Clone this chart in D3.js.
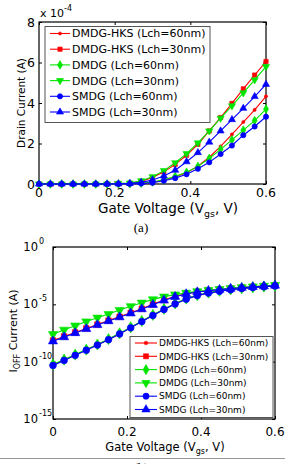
<!DOCTYPE html>
<html><head><meta charset="utf-8">
<script src="https://cdn.jsdelivr.net/npm/d3@7/dist/d3.min.js"></script>
<style>
body{margin:0;background:#fff}
svg{display:block}
text{font-family:"DejaVu Sans",sans-serif;fill:#000}
</style></head>
<body><svg id="c" width="285" height="464"></svg>
<script>
// ---------- data ----------
const vgs = [0,0.03,0.06,0.09,0.12,0.15,0.18,0.21,0.24,0.27,0.30,0.33,0.36,0.39,0.42,0.45,0.48,0.51,0.54,0.57,0.60];
const seriesNames = ["DMDG-HKS (Lch=60nm)","DMDG-HKS (Lch=30nm)","DMDG (Lch=60nm)","DMDG (Lch=30nm)","SMDG (Lch=60nm)","SMDG (Lch=30nm)"];
// (a) drain current, units of 1e-4 A
const idHks60  = [0,0,0,0,0,0,0,0,0.01,0.03,0.09,0.20,0.36,0.56,0.88,1.32,1.86,2.45,3.06,3.66,4.33];
const idHks30  = [0,0,0,0,0,0,0,0.02,0.04,0.13,0.32,0.60,0.97,1.42,1.96,2.62,3.28,3.98,4.70,5.38,6.05];
const idDmdg60 = [0,0,0,0,0,0,0,0,0.01,0.04,0.10,0.21,0.38,0.58,0.87,1.26,1.71,2.18,2.66,3.13,3.70];
const idDmdg30 = [0,0,0,0,0,0,0,0.03,0.05,0.16,0.36,0.66,1.05,1.50,2.03,2.62,3.25,3.86,4.50,5.14,5.80];
const idSmdg60 = [0,0,0,0,0,0,0,0,0.005,0.02,0.06,0.16,0.29,0.48,0.75,1.07,1.48,1.90,2.41,2.84,3.32];
const idSmdg30 = [0,0,0,0,0,0,0,0.01,0.03,0.08,0.20,0.40,0.68,1.10,1.55,2.07,2.62,3.18,3.74,4.32,4.92];
const xTicksA = [0,0.2,0.4,0.6];
const yTicksA = [0,2,4,6,8];
// (b) I_OFF, log10 of current in A
const ioffHks60  = [-10.30,-9.86,-9.42,-8.98,-8.53,-8.06,-7.56,-7.03,-6.48,-5.95,-5.43,-4.95,-4.53,-4.22,-4.00,-3.84,-3.72,-3.61,-3.53,-3.46,-3.39];
const ioffHks30  = [-8.15,-7.80,-7.45,-7.10,-6.76,-6.42,-6.08,-5.74,-5.38,-5.00,-4.62,-4.30,-4.07,-3.91,-3.79,-3.70,-3.62,-3.54,-3.47,-3.41,-3.35];
const ioffDmdg60 = [-10.25,-9.82,-9.38,-8.95,-8.50,-8.03,-7.53,-7.00,-6.45,-5.92,-5.40,-4.92,-4.50,-4.20,-3.98,-3.82,-3.70,-3.60,-3.52,-3.45,-3.38];
const ioffDmdg30 = [-7.60,-7.22,-6.86,-6.50,-6.17,-5.85,-5.50,-5.17,-4.86,-4.57,-4.33,-4.15,-4.00,-3.87,-3.77,-3.68,-3.60,-3.52,-3.45,-3.39,-3.33];
const ioffSmdg60 = [-10.33,-9.89,-9.45,-9.00,-8.55,-8.08,-7.58,-7.05,-6.50,-5.97,-5.45,-4.97,-4.55,-4.24,-4.02,-3.86,-3.73,-3.62,-3.54,-3.47,-3.40];
const ioffSmdg30 = [-8.22,-7.86,-7.50,-7.15,-6.80,-6.46,-6.12,-5.78,-5.42,-5.04,-4.66,-4.34,-4.10,-3.93,-3.81,-3.72,-3.63,-3.55,-3.48,-3.42,-3.36];
const xTicksB = [0,0.2,0.4,0.6];
const yTicksBExp = [0,-5,-10,-15];

// ---------- styles ----------
const colors = ["#ff0000","#ff0000","#00e600","#00e600","#0000ff","#0000ff"];
const shapes = ["dot","square","diamond","tdown","circle","tup"];

const svg = d3.select("#c");
svg.append("rect").attr("width",285).attr("height",464).attr("fill","#fff");

function symPath(shape, s){
  const map={dot:[d3.symbolCircle,0.35],square:[d3.symbolSquare,0.85],diamond:[d3.symbolDiamond,1.0],
    tdown:[d3.symbolTriangle,1.0],circle:[d3.symbolCircle,1.0],tup:[d3.symbolTriangle,1.0]};
  const m=map[shape];
  return d3.symbol().type(m[0]).size(s*m[1])();
}
function drawMarker(g, shape, x, y, color, s){
  g.append("path").attr("d",symPath(shape,s))
   .attr("transform",`translate(${x},${y})`+(shape==="tdown"?" rotate(180)":""))
   .attr("fill",color).attr("stroke",color).attr("stroke-width",0.6);
}
function drawSeries(g, xs, ys, vals, color, shape, s){
  const pts = vals.map((v,i)=>[xs(vgs[i]), ys(v)]);
  g.append("path").attr("d",d3.line()(pts)).attr("fill","none").attr("stroke",color).attr("stroke-width",1.1);
  pts.forEach(p=>drawMarker(g,shape,p[0],p[1],color,s));
}
function frame(g, x, y, xt, yt, tick){
  const [x0,x1]=x.range(), [y0,y1]=y.range();
  g.append("g").attr("transform",`translate(0,${y0})`).call(d3.axisBottom(x).tickValues(xt).tickSize(-tick).tickFormat("")).call(a=>a.select(".domain").remove());
  g.append("g").attr("transform",`translate(0,${y1})`).call(d3.axisTop(x).tickValues(xt).tickSize(-tick).tickFormat("")).call(a=>a.select(".domain").remove());
  g.append("g").attr("transform",`translate(${x0},0)`).call(d3.axisLeft(y).tickValues(yt).tickSize(-tick).tickFormat("")).call(a=>a.select(".domain").remove());
  g.append("g").attr("transform",`translate(${x1},0)`).call(d3.axisRight(y).tickValues(yt).tickSize(-tick).tickFormat("")).call(a=>a.select(".domain").remove());
  g.selectAll(".tick line").attr("stroke","#000");
  g.append("rect").attr("x",x0).attr("y",y1).attr("width",x1-x0).attr("height",y0-y1)
   .attr("fill","none").attr("stroke","#000").attr("stroke-width",1.2);
}
function gateLabel(g, cx, yb, fs){
  const t=g.append("text").attr("x",cx).attr("y",yb).attr("text-anchor","middle").attr("font-size",fs);
  t.append("tspan").text("Gate Voltage (V");
  t.append("tspan").attr("font-size",fs*0.7).attr("dy",fs*0.3).text("gs");
  t.append("tspan").attr("dy",-fs*0.3).text(", V)");
}
function legend(g, x0, y0, w, h, rowY0, step, lineX0, lineX1, textX, fs, s){
  g.append("rect").attr("x",x0).attr("y",y0).attr("width",w).attr("height",h)
   .attr("fill","#fff").attr("stroke","#555").attr("stroke-width",1);
  seriesNames.forEach((n,i)=>{
    const yy=rowY0+i*step;
    g.append("line").attr("x1",lineX0).attr("x2",lineX1).attr("y1",yy).attr("y2",yy).attr("stroke",colors[i]).attr("stroke-width",1.1);
    drawMarker(g,shapes[i],(lineX0+lineX1)/2,yy,colors[i],s);
    g.append("text").attr("x",textX).attr("y",yy+fs*0.36).attr("font-size",fs).text(n);
  });
}

// ---------- (a) ----------
const gA = svg.append("g");
const xA = d3.scaleLinear().domain([0,0.6]).range([39,266]);
const yA = d3.scaleLinear().domain([0,8]).range([184,22]);
frame(gA,xA,yA,xTicksA,yTicksA,3);
const dataA=[idHks60,idHks30,idDmdg60,idDmdg30,idSmdg60,idSmdg30];
dataA.forEach((d,i)=>drawSeries(gA,xA,yA,d,colors[i],shapes[i],22));
xTicksA.forEach(t=>gA.append("text").attr("x",xA(t)).attr("y",196.5).attr("text-anchor","middle").attr("font-size",12.5).text(t===0?"0":t.toFixed(1)));
yTicksA.forEach(t=>gA.append("text").attr("x",35).attr("y",yA(t)+4.5).attr("text-anchor","end").attr("font-size",12.5).text(t));
const mul=gA.append("text").attr("x",40).attr("y",17).attr("font-size",11);
mul.append("tspan").text("x 10");
mul.append("tspan").attr("font-size",8).attr("dy",-6).text("-4");
gA.append("text").attr("transform","translate(25,103) rotate(-90)").attr("text-anchor","middle").attr("font-size",10.5).text("Drain Current (A)");
gateLabel(gA,168,212.5,13.5);
legend(gA,45,26.5,165,96,33.5,15.7,50,70,72,11,22);

// (a) caption
svg.append("text").attr("x",141).attr("y",232).attr("text-anchor","middle").attr("font-size",13)
  .style("font-family","'Liberation Serif',serif").text("(a)");

// ---------- (b) ----------
const gB = svg.append("g");
const xB = d3.scaleLinear().domain([0,0.6]).range([53,275]);
const yB = d3.scaleLog().domain([1e-15,1]).range([419,247]);
const yTicksB = yTicksBExp.map(e=>Math.pow(10,e));
frame(gB,xB,yB,xTicksB,yTicksB,3);
const dataB=[ioffHks60,ioffHks30,ioffDmdg60,ioffDmdg30,ioffSmdg60,ioffSmdg30].map(a=>a.map(e=>Math.pow(10,e)));
dataB.forEach((d,i)=>drawSeries(gB,xB,yB,d,colors[i],shapes[i],shapes[i]==="dot"?30:36));
xTicksB.forEach(t=>gB.append("text").attr("x",xB(t)).attr("y",436).attr("text-anchor","middle").attr("font-size",12).text(t===0?"0":t.toFixed(1)));
yTicksBExp.forEach(e=>{
  const yy=yB(Math.pow(10,e));
  gB.append("text").attr("x",38).attr("y",yy+4).attr("text-anchor","end").attr("font-size",11.5).text("10");
  gB.append("text").attr("x",39).attr("y",yy-3).attr("font-size",8).text(e);
});
const yl=gB.append("text").attr("transform","translate(17,331) rotate(-90)").attr("text-anchor","middle").attr("font-size",11);
yl.append("tspan").text("I");
yl.append("tspan").attr("font-size",8).attr("dy",3).text("OFF");
yl.append("tspan").attr("dy",-3).text(" Current (A)");
gateLabel(gB,165,451,11.5);
legend(gB,130,336.5,143,81,343,13.3,135,157,159,9,30);

// bottom separator and (b) caption (cut off by the frame edge, as in the reference)
svg.append("line").attr("x1",0).attr("x2",285).attr("y1",458.5).attr("y2",458.5).attr("stroke","#999").attr("stroke-width",1);
svg.append("text").attr("x",141).attr("y",472).attr("text-anchor","middle").attr("font-size",13)
  .style("font-family","'Liberation Serif',serif").text("(b)");
</script></body></html>
